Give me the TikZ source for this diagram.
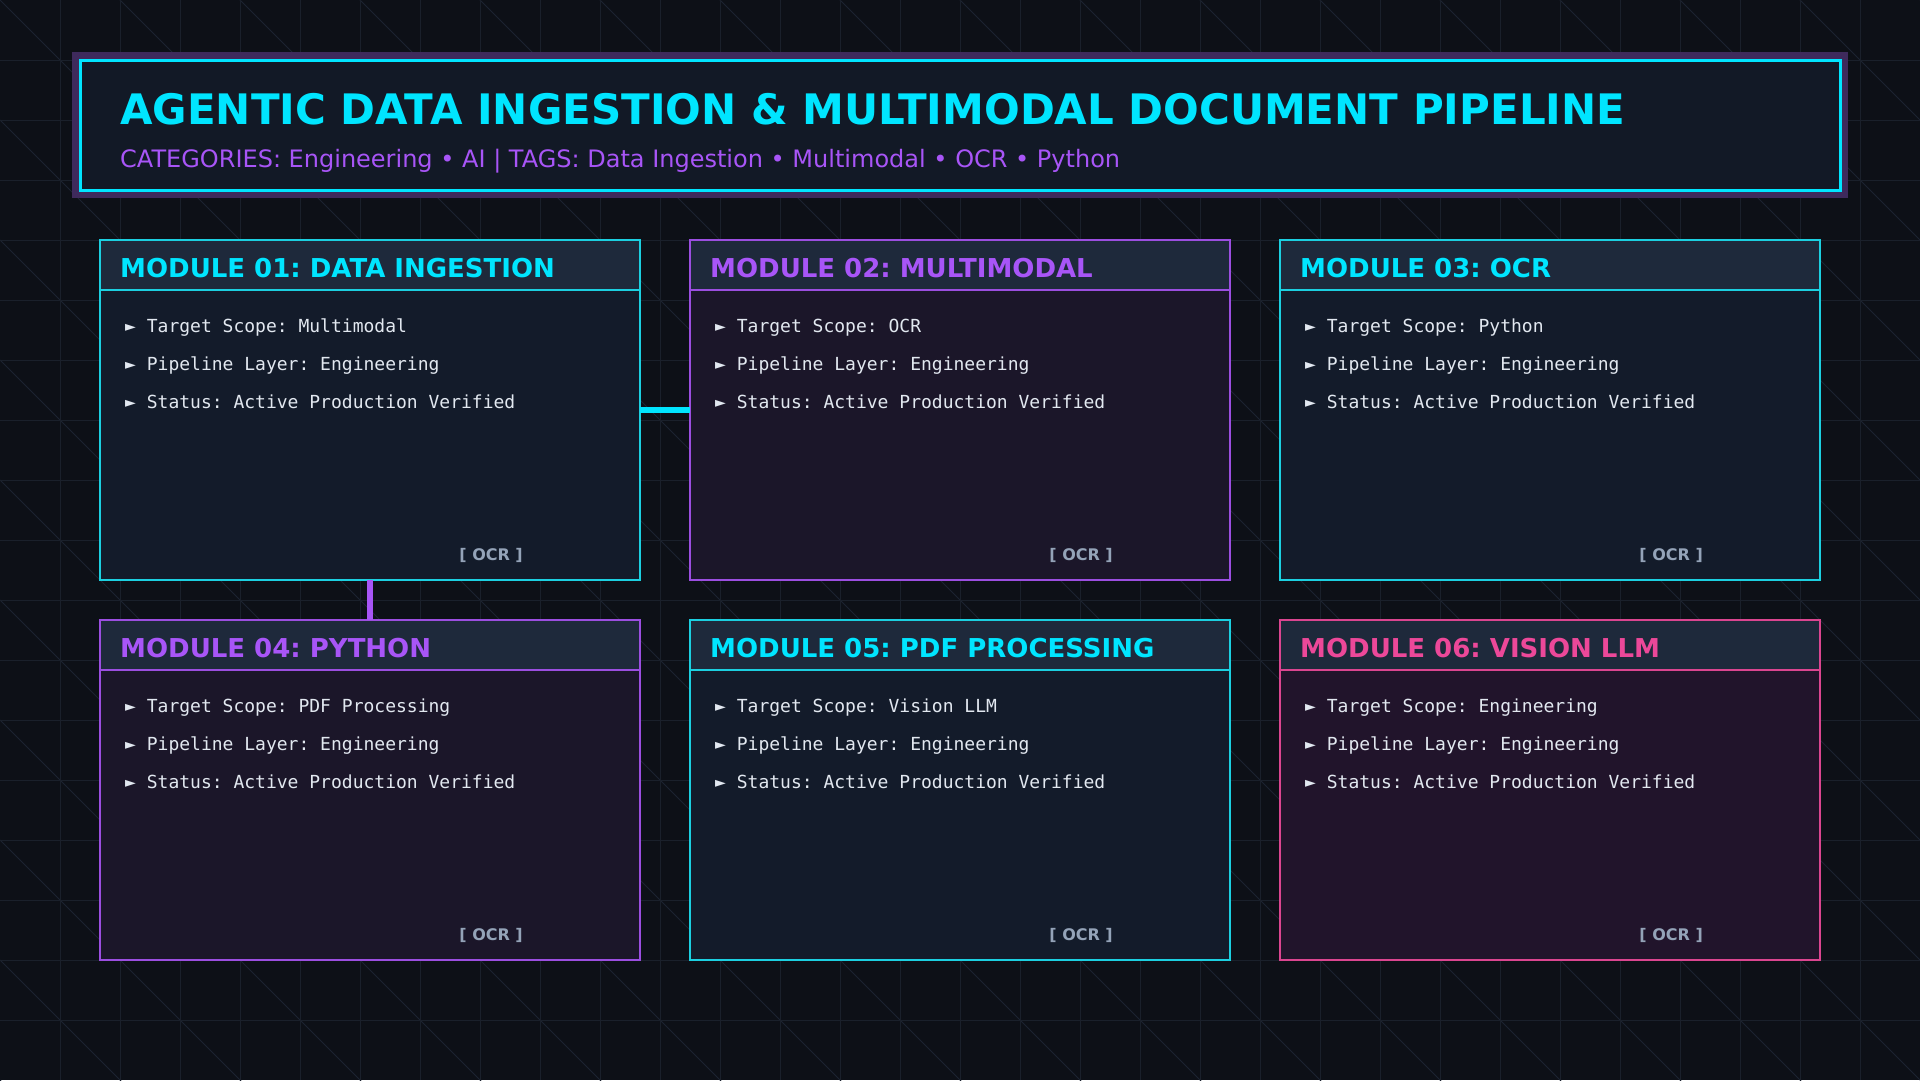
\documentclass[tikz,border=0pt]{standalone}
\usepackage{fontspec}
\setmainfont{DejaVu Sans}
\newfontfamily\monof{DejaVu Sans Mono}
\definecolor{bgc}{HTML}{0D1017}
\definecolor{gridc}{HTML}{1A202B}
\definecolor{diagc}{HTML}{1C2331}
\definecolor{cyanT}{HTML}{00E5FF}
\definecolor{cyanB}{HTML}{1CCFE0}
\definecolor{purpT}{HTML}{A855F7}
\definecolor{purpB}{HTML}{9B4EE0}
\definecolor{pinkT}{HTML}{EC4899}
\definecolor{pinkB}{HTML}{DB4590}
\definecolor{hdrfill}{HTML}{1E293B}
\definecolor{cyanbody}{HTML}{131B2A}
\definecolor{purpbody}{HTML}{1B1629}
\definecolor{pinkbody}{HTML}{21142B}
\definecolor{bullc}{HTML}{E2E8F0}
\definecolor{ocrc}{HTML}{94A3B8}
\definecolor{headfill}{HTML}{121926}
\definecolor{glowc}{HTML}{3E2A5C}
\tikzset{
  modframe/.style={rectangle, minimum width=540pt, minimum height=340pt, inner sep=0pt, draw=none},
  ttl/.style={inner sep=0pt, font=\frenchspacing\bfseries\fontsize{26}{26}\selectfont},
  bul/.style={inner sep=0pt, text=bullc, font=\frenchspacing\monof\fontsize{18}{18}\selectfont},
  ocr/.style={inner sep=0pt, text=ocrc, font=\bfseries\fontsize{16}{16}\selectfont},
  link/.style={line width=5.5pt}
}
\newcommand\modbox[7]{%
  \node[modframe, fill=#5] (#1) at (#2+270,#3+170) {};
  \fill[hdrfill] (#2,#3) rectangle (#2+540,#3+50);
  \draw[#4, line width=1.5pt] (#2,#3+50) -- (#2+540,#3+50);
  \draw[#4, line width=2.5pt] (#1.south west) rectangle (#1.north east);
  \node[ttl, text=#6, anchor=base west] (#1t) at (#2+20,#3+37) {#7};
}
\newcommand\modlines[4]{%
  \node[bul, anchor=base west] (#1a) at (#2+25,#3+92) {► Target Scope: #4};
  \node[bul, anchor=base west] (#1b) at (#2+25,#3+130) {► Pipeline Layer: Engineering};
  \node[bul, anchor=base west] (#1c) at (#2+25,#3+168) {► Status: Active Production Verified};
  \node[ocr, anchor=base east] (#1o) at (#2+423,#3+320) {[ OCR ]};
}
\begin{document}
\frenchspacing
\begin{tikzpicture}[x=1pt,y=-1pt]
\fill[bgc] (0,0) rectangle (1920,1080);
\useasboundingbox (0,0) rectangle (1920,1080);
\begin{scope}
  \clip (0,0) rectangle (1920,1080);
  \foreach \k in {-16,...,9} \draw[diagc, line width=0.8pt] (0,120*\k) -- (1920,1920+120*\k);
  \foreach \x in {60,120,...,1860} \draw[gridc, line width=1pt] (\x,0) -- (\x,1080);
  \foreach \y in {60,120,...,1020} \draw[gridc, line width=1pt] (0,\y) -- (1920,\y);
\end{scope}
% header
\fill[glowc] (72,52) rectangle (1848,198);
\node[rectangle, minimum width=1760pt, minimum height=130pt, inner sep=0pt, fill=headfill, draw=cyanT, line width=3pt] (header) at (960,125) {};
\node[inner sep=0pt, anchor=base west, text=cyanT, font=\bfseries\fontsize{42}{42}\selectfont] (title) at (120,124) {AGENTIC DATA INGESTION \& MULTIMODAL DOCUMENT PIPELINE};
\node[inner sep=0pt, anchor=base west, text=purpT, font=\frenchspacing\fontsize{24}{24}\selectfont] (subtitle) at (120,167) {CATEGORIES: Engineering • AI | TAGS: Data Ingestion • Multimodal • OCR • Python};
% modules
\modbox{m1}{100}{240}{cyanB}{cyanbody}{cyanT}{MODULE 01: DATA INGESTION}
\modbox{m2}{690}{240}{purpB}{purpbody}{purpT}{MODULE 02: MULTIMODAL}
\modbox{m3}{1280}{240}{cyanB}{cyanbody}{cyanT}{MODULE 03: OCR}
\modbox{m4}{100}{620}{purpB}{purpbody}{purpT}{MODULE 04: PYTHON}
\modbox{m5}{690}{620}{cyanB}{cyanbody}{cyanT}{MODULE 05: PDF PROCESSING}
\modbox{m6}{1280}{620}{pinkB}{pinkbody}{pinkT}{MODULE 06: VISION LLM}
\modlines{m1}{100}{240}{Multimodal}
\modlines{m2}{690}{240}{OCR}
\modlines{m3}{1280}{240}{Python}
\modlines{m4}{100}{620}{PDF Processing}
\modlines{m5}{690}{620}{Vision LLM}
\modlines{m6}{1280}{620}{Engineering}
% connectors
\draw[cyanT, link] (m1.east) -- (m2.west);
\draw[purpT, link] (m1.south) -- (m4.north);
\end{tikzpicture}
\end{document}
